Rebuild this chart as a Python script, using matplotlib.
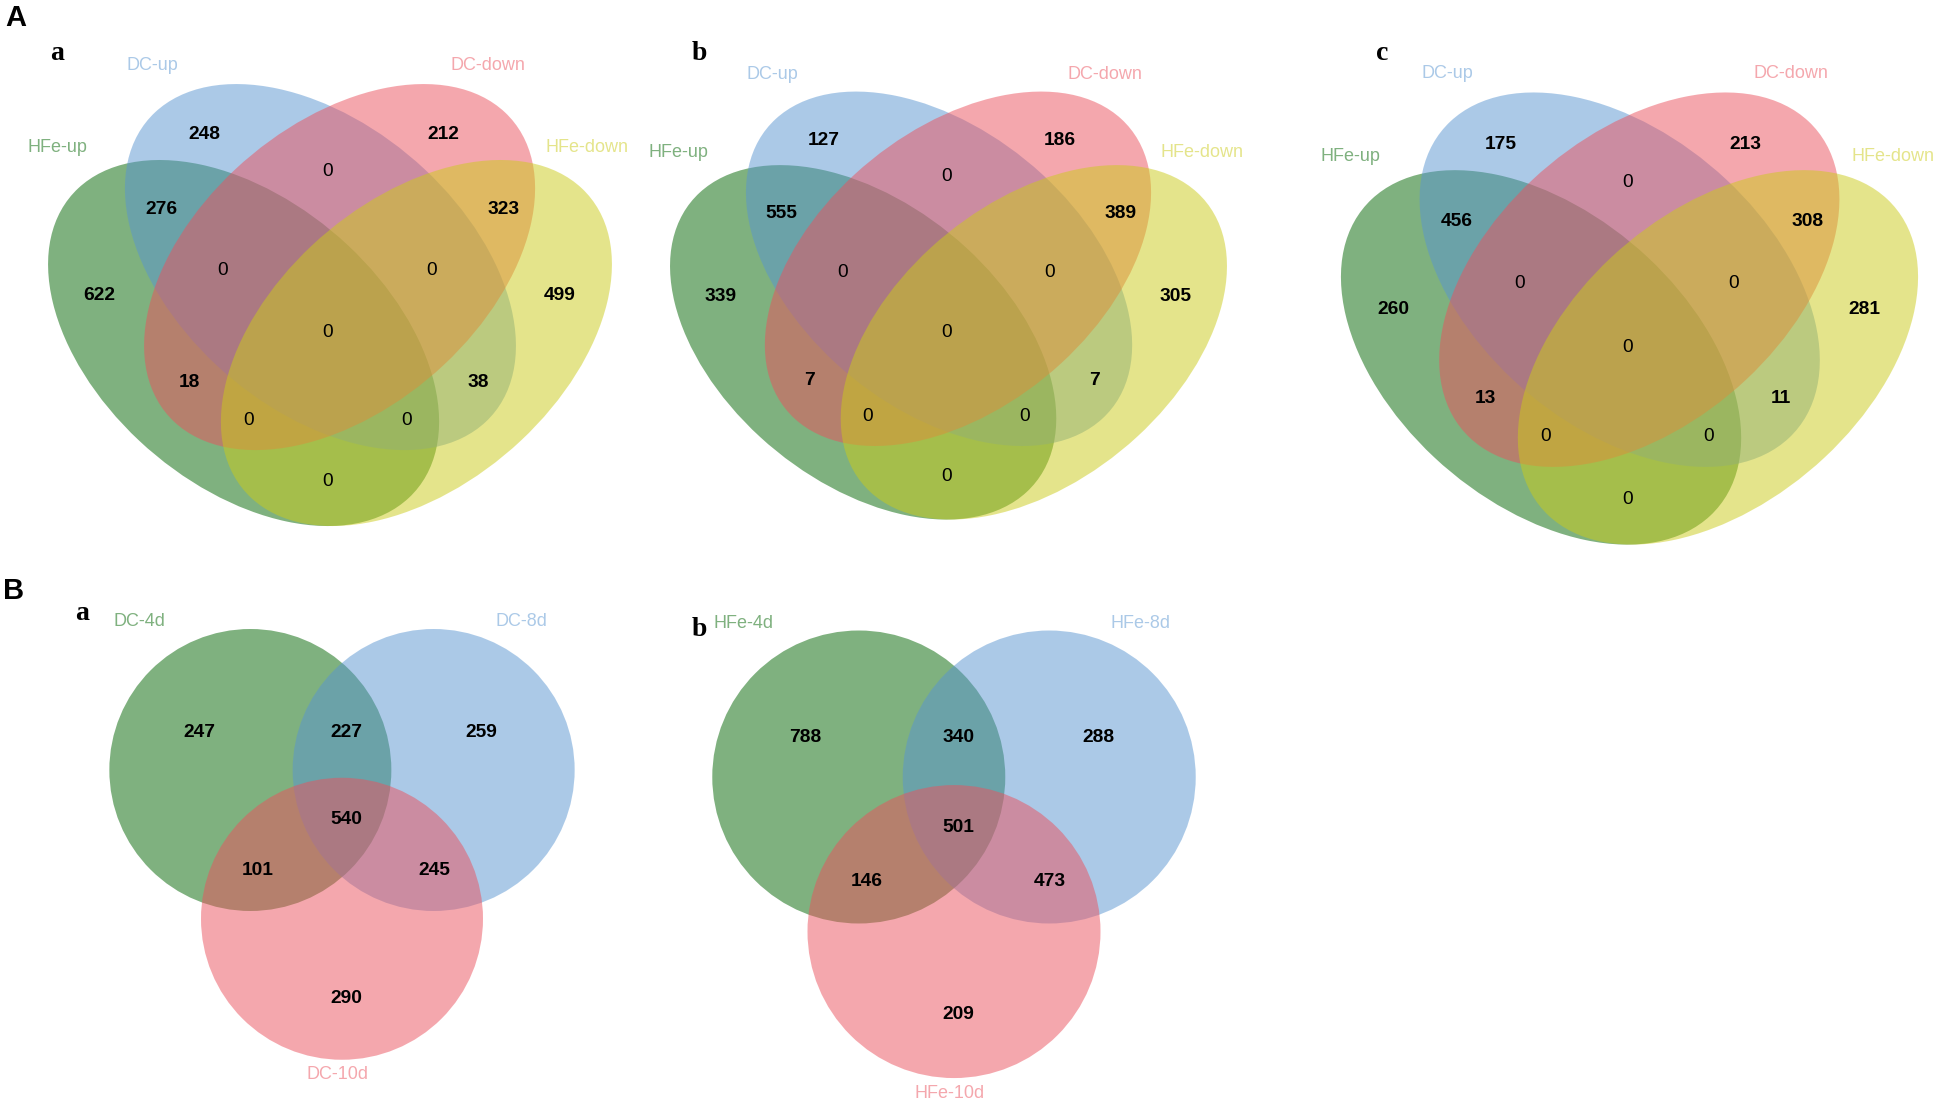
import matplotlib.pyplot as plt
from matplotlib.patches import Ellipse, Circle

plt.rcParams['font.family'] = ['Liberation Sans', 'DejaVu Sans']

# ---- data ----
quad_sets = ["HFe-up", "DC-up", "DC-down", "HFe-down"]
# region codes in set order (HFe-up, DC-up, DC-down, HFe-down)
quad_regions = ["0100", "0010", "0110", "1100", "0011", "1110", "0111",
                "1000", "0001", "1111", "1010", "0101", "1011", "1101", "1001"]
Aa_counts = [248, 212, 0, 276, 323, 0, 0, 622, 499, 0, 18, 38, 0, 0, 0]
Ab_counts = [127, 186, 0, 555, 389, 0, 0, 339, 305, 0, 7, 7, 0, 0, 0]
Ac_counts = [175, 213, 0, 456, 308, 0, 0, 260, 281, 0, 13, 11, 0, 0, 0]

Ba_sets = ["DC-4d", "DC-8d", "DC-10d"]
Bb_sets = ["HFe-4d", "HFe-8d", "HFe-10d"]
tri_regions = ["100", "110", "010", "111", "101", "011", "001"]
Ba_counts = [247, 227, 259, 540, 101, 245, 290]
Bb_counts = [788, 340, 288, 501, 146, 473, 209]

# ---- style / layout ----
W, H = 1950, 1102
GREEN, BLUE, RED, YELLOW = "#006400", "#5995D1", "#EB515D", "#CBCB19"
ALPHA = 0.5
NUM_SIZE = 13.8
CAT_SIZE = 13

quad_colors = [GREEN, BLUE, RED, YELLOW]
QA, QB = 1.196, 0.755  # semi-axes of the 4-set ellipses
quad_ellipses = [((-0.442, -0.205), -45), ((-0.049, 0.210), -45),
                 ((0.049, 0.210), 45), ((0.442, -0.205), 45)]
quad_label_pos = {
    "0100": (-0.645, 0.932), "0010": (0.578, 0.932), "0110": (-0.010, 0.730),
    "1100": (-0.864, 0.522), "0011": (0.890, 0.522), "1110": (-0.547, 0.189),
    "0111": (0.522, 0.189), "1000": (-1.182, 0.052), "0001": (1.176, 0.052),
    "1111": (-0.010, -0.150), "1010": (-0.721, -0.423), "0101": (0.757, -0.423),
    "1011": (-0.419, -0.626), "1101": (0.394, -0.626), "1001": (-0.010, -0.964),
}
quad_cat_pos = [(-1.396, 0.866), (-0.910, 1.309), (0.808, 1.309), (1.315, 0.866)]

tri_colors = [GREEN, BLUE, RED]
tri_centers = [(-0.65, 0.0), (0.65, 0.0), (0.0, -1.055)]
tri_label_pos = {
    "100": (-1.012, 0.268), "110": (0.03, 0.268), "010": (0.988, 0.268),
    "111": (0.03, -0.348), "101": (-0.595, -0.716), "011": (0.657, -0.716),
    "001": (0.03, -1.62),
}
tri_cat_pos = [(-1.44, 1.05), (1.27, 1.05), (-0.03, -2.16)]

fig = plt.figure(figsize=(19.5, 11.02), dpi=100)


def add_panel(cx, cy, sx, sy, box):
    x0, x1, y0, y1 = box
    left = cx + x0 * sx
    right = cx + x1 * sx
    top = cy - y1 * sy
    bottom = cy - y0 * sy
    ax = fig.add_axes([left / W, 1 - bottom / H, (right - left) / W, (bottom - top) / H])
    ax.set_xlim(x0, x1)
    ax.set_ylim(y0, y1)
    ax.axis('off')
    return ax


def num_text(ax, xy, v):
    ax.text(xy[0], xy[1], str(v), ha='center', va='center', fontsize=NUM_SIZE,
            fontweight='bold' if v else 'normal', color='black')


def quad_venn(cx, cy, sx, sy, counts):
    ax = add_panel(cx, cy, sx, sy, (-1.55, 1.55, -1.35, 1.45))
    for (c, ang), col in zip(quad_ellipses, quad_colors):
        ax.add_patch(Ellipse(c, 2 * QA, 2 * QB, angle=ang, facecolor=col,
                             alpha=ALPHA, lw=0))
    for r, v in zip(quad_regions, counts):
        num_text(ax, quad_label_pos[r], v)
    for name, pos, col in zip(quad_sets, quad_cat_pos, quad_colors):
        ax.text(pos[0], pos[1], name, ha='center', va='center', fontsize=CAT_SIZE,
                color=col, alpha=ALPHA)


def tri_venn(cx, cy, s, names, counts):
    ax = add_panel(cx, cy, s, s, (-1.8, 1.8, -2.2, 1.3))
    for c, col in zip(tri_centers, tri_colors):
        ax.add_patch(Circle(c, 1.0, facecolor=col, alpha=ALPHA, lw=0))
    for r, v in zip(tri_regions, counts):
        num_text(ax, tri_label_pos[r], v)
    for name, pos, col in zip(names, tri_cat_pos, tri_colors):
        ax.text(pos[0], pos[1], name, ha='center', va='center', fontsize=CAT_SIZE,
                color=col, alpha=ALPHA)


quad_venn(330, 305.5, 195.5, 183, Aa_counts)
quad_venn(948.5, 306, 193.1, 177.2, Ab_counts)
quad_venn(1629.5, 319, 200.1, 187.2, Ac_counts)
tri_venn(342, 770, 141, Ba_sets, Ba_counts)
tri_venn(954, 777, 146.5, Bb_sets, Bb_counts)

# panel letters
for lab, x, y in [("A", 16, 18), ("B", 14, 591)]:
    fig.text(x / W, 1 - y / H, lab, ha='center', va='center', fontsize=21,
             fontweight='bold')
for lab, x, y in [("a", 57, 53), ("b", 699, 53), ("c", 1382, 53),
                  ("a", 82, 613), ("b", 699, 629)]:
    fig.text(x / W, 1 - y / H, lab, ha='center', va='center', fontsize=20,
             fontweight='bold', family='Liberation Serif')

fig.savefig("out.png", dpi=100, facecolor='white')
